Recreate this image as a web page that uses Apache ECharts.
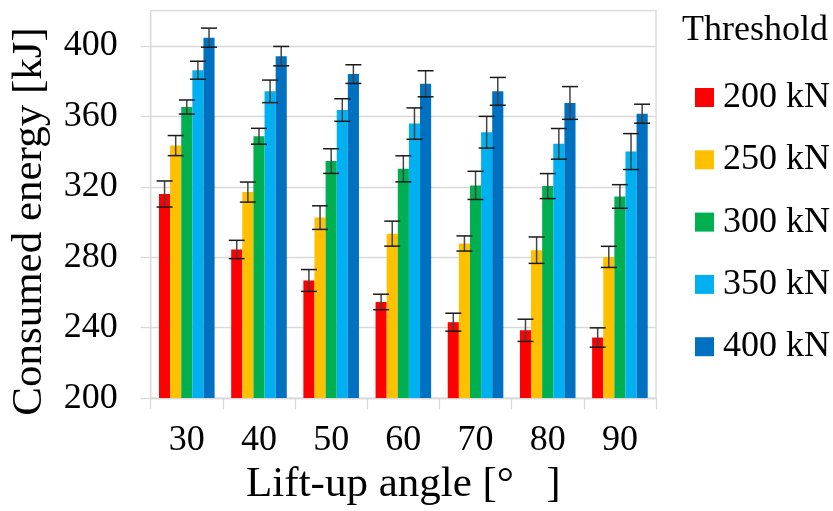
<!DOCTYPE html>
<html>
<head>
<meta charset="utf-8">
<script src="https://cdn.jsdelivr.net/npm/echarts@6/dist/echarts.min.js"></script>
<style>
html,body{margin:0;padding:0;background:#fff;}
#chart{width:833px;height:511px;}
</style>
</head>
<body>
<div id="chart"></div>
<script>
const categories = ['30', '40', '50', '60', '70', '80', '90'];
const seriesNames = ['200 kN', '250 kN', '300 kN', '350 kN', '400 kN'];
const yTicks = [200, 240, 280, 320, 360, 400];

const e200 = [315.9, 284.4, 266.8, 254.6, 243.1, 238.5, 234.4];
const e250 = [343.4, 317.0, 302.5, 293.4, 287.8, 284.0, 280.2];
const e300 = [365.3, 348.7, 334.6, 330.2, 320.8, 320.4, 314.5];
const e350 = [386.2, 374.2, 363.6, 355.9, 351.0, 344.4, 340.0];
const e400 = [404.7, 394.2, 384.0, 378.5, 374.2, 367.6, 361.5];

const err200 = [7.4, 5.2, 6.2, 4.4, 5.1, 6.3, 5.5];
const err250 = [5.7, 5.7, 6.7, 7.1, 4.3, 7.5, 6.0];
const err300 = [4.0, 4.5, 7.0, 7.4, 8.0, 7.1, 6.7];
const err350 = [5.1, 6.4, 6.4, 8.9, 9.0, 8.7, 10.2];
const err400 = [5.4, 5.5, 5.3, 7.4, 7.9, 9.3, 5.4];

const colors = ['#FF0000', '#FFC000', '#00B050', '#00B0F0', '#0070C0'];
const values = [e200, e250, e300, e350, e400];
const errors = [err200, err250, err300, err350, err400];

const FONT = "'Liberation Serif', 'Times New Roman', serif";
const CAT_GAP = 0.23;

const errData = [];
values.forEach((arr, s) => {
  arr.forEach((v, i) => errData.push([i, s, v, errors[s][i]]));
});

function renderErr(params, api) {
  const cat = api.value(0), s = api.value(1), v = api.value(2), e = api.value(3);
  const band = api.size([1, 0])[0];
  const bw = band * (1 - CAT_GAP) / 5;
  const c = api.coord([cat, v]);
  const x = c[0] + (s - 2) * bw;
  const top = api.coord([cat, v + e])[1];
  const bot = api.coord([cat, v - e])[1];
  const hw = 8;
  const st = { stroke: '#1a1a1a', lineWidth: 1.5 };
  return {
    type: 'group',
    children: [
      { type: 'line', shape: { x1: x, y1: top, x2: x, y2: bot }, style: { stroke: '#444', lineWidth: 1.5 } },
      { type: 'line', shape: { x1: x - hw, y1: top, x2: x + hw, y2: top }, style: st },
      { type: 'line', shape: { x1: x - hw, y1: bot, x2: x + hw, y2: bot }, style: st }
    ]
  };
}

const chart = echarts.init(document.getElementById('chart'), null, { renderer: 'canvas' });

const series = seriesNames.map((name, s) => ({
  name: name,
  type: 'bar',
  data: values[s],
  barGap: '0%',
  barCategoryGap: (CAT_GAP * 100) + '%',
  itemStyle: { color: colors[s] },
  z: 2
}));
series.push({
  type: 'custom',
  name: 'err',
  renderItem: renderErr,
  data: errData,
  encode: { x: 0, y: 2 },
  z: 5,
  silent: true
});

chart.setOption({
  animation: false,
  backgroundColor: '#fff',
  grid: {
    left: 150.7, right: 177, top: 10.7, bottom: 111.7,
    show: true, borderColor: '#d9d9d9', borderWidth: 1.3, backgroundColor: 'transparent'
  },
  legend: {
    data: seriesNames,
    orient: 'vertical',
    left: 695, top: 79.5,
    padding: 0,
    itemWidth: 19, itemHeight: 19, itemGap: 26.3,
    icon: 'rect',
    textStyle: { fontFamily: FONT, fontSize: 36, color: '#000', lineHeight: 36, padding: [0, 0, 0, 4] }
  },
  graphic: [
    {
      type: 'text', right: 5, top: 13,
      style: { text: 'Threshold', font: '36px ' + FONT, fill: '#000' }
    },
    {
      type: 'text', x: 29.5, y: 221.5, rotation: Math.PI / 2,
      style: { text: 'Consumed energy [kJ]', font: '43px ' + FONT, fill: '#000', align: 'center', verticalAlign: 'middle' }
    }
  ],
  xAxis: {
    type: 'category',
    data: categories,
    boundaryGap: true,
    name: 'Lift-up angle [°\u00a0\u00a0\u00a0]',
    nameLocation: 'middle',
    nameGap: 57,
    nameTextStyle: { fontFamily: FONT, fontSize: 43, color: '#000' },
    axisLine: { lineStyle: { color: '#d9d9d9', width: 1.3 } },
    axisTick: { show: true, alignWithLabel: false, length: 11, lineStyle: { color: '#d9d9d9', width: 1.3 } },
    axisLabel: { fontFamily: FONT, fontSize: 36, color: '#000', margin: 24 },
    splitLine: { show: false }
  },
  yAxis: {
    type: 'value',
    min: 200, max: 420, interval: 40,
    axisLine: { show: true, lineStyle: { color: '#d9d9d9', width: 1.3 } },
    axisTick: { show: true, length: 10, lineStyle: { color: '#d9d9d9', width: 1.3 }, customValues: yTicks },
    axisLabel: { fontFamily: FONT, fontSize: 36, color: '#000', margin: 33, customValues: yTicks },
    splitLine: { show: true, lineStyle: { color: '#d9d9d9', width: 1.3 } }
  },
  series: series
});
</script>
</body>
</html>
